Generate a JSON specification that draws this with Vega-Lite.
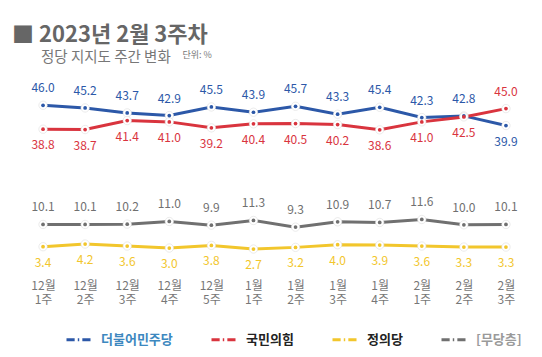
{
  "$schema": "https://vega.github.io/schema/vega-lite/v6.json",
  "width": 505,
  "height": 166,
  "autosize": "none",
  "padding": {"left": 22, "top": 92, "right": 15, "bottom": 99},
  "background": "white",
  "config": {
    "font": "Noto Sans CJK KR",
    "view": {"stroke": null}
  },
  "title": {
    "text": "■ 2023년 2월 3주차",
    "subtitle": "\u200b\u2003\u2003정당 지지도 주간 변화",
    "anchor": "start",
    "frame": "group",
    "dx": -10,
    "offset": -15.5,
    "fontSize": 22,
    "fontWeight": "bold",
    "color": "#666666",
    "subtitleFontSize": 14.5,
    "subtitleColor": "#777777",
    "subtitlePadding": 4
  },
  "data": {
    "values": [
      {"week": "12월 1주", "party": "더불어민주당", "value": 46.0},
      {"week": "12월 2주", "party": "더불어민주당", "value": 45.2},
      {"week": "12월 3주", "party": "더불어민주당", "value": 43.7},
      {"week": "12월 4주", "party": "더불어민주당", "value": 42.9},
      {"week": "12월 5주", "party": "더불어민주당", "value": 45.5},
      {"week": "1월 1주", "party": "더불어민주당", "value": 43.9},
      {"week": "1월 2주", "party": "더불어민주당", "value": 45.7},
      {"week": "1월 3주", "party": "더불어민주당", "value": 43.3},
      {"week": "1월 4주", "party": "더불어민주당", "value": 45.4},
      {"week": "2월 1주", "party": "더불어민주당", "value": 42.3},
      {"week": "2월 2주", "party": "더불어민주당", "value": 42.8},
      {"week": "2월 3주", "party": "더불어민주당", "value": 39.9},
      {"week": "12월 1주", "party": "국민의힘", "value": 38.8},
      {"week": "12월 2주", "party": "국민의힘", "value": 38.7},
      {"week": "12월 3주", "party": "국민의힘", "value": 41.4},
      {"week": "12월 4주", "party": "국민의힘", "value": 41.0},
      {"week": "12월 5주", "party": "국민의힘", "value": 39.2},
      {"week": "1월 1주", "party": "국민의힘", "value": 40.4},
      {"week": "1월 2주", "party": "국민의힘", "value": 40.5},
      {"week": "1월 3주", "party": "국민의힘", "value": 40.2},
      {"week": "1월 4주", "party": "국민의힘", "value": 38.6},
      {"week": "2월 1주", "party": "국민의힘", "value": 41.0},
      {"week": "2월 2주", "party": "국민의힘", "value": 42.5},
      {"week": "2월 3주", "party": "국민의힘", "value": 45.0},
      {"week": "12월 1주", "party": "정의당", "value": 3.4},
      {"week": "12월 2주", "party": "정의당", "value": 4.2},
      {"week": "12월 3주", "party": "정의당", "value": 3.6},
      {"week": "12월 4주", "party": "정의당", "value": 3.0},
      {"week": "12월 5주", "party": "정의당", "value": 3.8},
      {"week": "1월 1주", "party": "정의당", "value": 2.7},
      {"week": "1월 2주", "party": "정의당", "value": 3.2},
      {"week": "1월 3주", "party": "정의당", "value": 4.0},
      {"week": "1월 4주", "party": "정의당", "value": 3.9},
      {"week": "2월 1주", "party": "정의당", "value": 3.6},
      {"week": "2월 2주", "party": "정의당", "value": 3.3},
      {"week": "2월 3주", "party": "정의당", "value": 3.3},
      {"week": "12월 1주", "party": "[무당층]", "value": 10.1},
      {"week": "12월 2주", "party": "[무당층]", "value": 10.1},
      {"week": "12월 3주", "party": "[무당층]", "value": 10.2},
      {"week": "12월 4주", "party": "[무당층]", "value": 11.0},
      {"week": "12월 5주", "party": "[무당층]", "value": 9.9},
      {"week": "1월 1주", "party": "[무당층]", "value": 11.3},
      {"week": "1월 2주", "party": "[무당층]", "value": 9.3},
      {"week": "1월 3주", "party": "[무당층]", "value": 10.9},
      {"week": "1월 4주", "party": "[무당층]", "value": 10.7},
      {"week": "2월 1주", "party": "[무당층]", "value": 11.6},
      {"week": "2월 2주", "party": "[무당층]", "value": 10.0},
      {"week": "2월 3주", "party": "[무당층]", "value": 10.1}
    ]
  },
  "encoding": {
    "x": {
      "field": "week",
      "type": "nominal",
      "sort": null,
      "scale": {"type": "point", "padding": 0.5},
      "axis": {
        "title": null,
        "domain": false,
        "ticks": false,
        "grid": false,
        "labelAngle": 0,
        "labelExpr": "split(datum.label, ' ')",
        "labelColor": "#777777",
        "labelFontSize": 12,
        "labelLineHeight": 14,
        "labelPadding": 22
      }
    },
    "y": {
      "field": "value",
      "type": "quantitative",
      "scale": {"domain": [0, 50], "nice": false, "zero": true},
      "axis": {
        "title": "단위: %",
        "labels": false,
        "ticks": false,
        "domain": false,
        "grid": false,
        "titleAngle": 0,
        "titleX": 160,
        "titleY": -35,
        "titleAlign": "left",
        "titleBaseline": "alphabetic",
        "titleFontSize": 9,
        "titleFontWeight": "normal",
        "titleColor": "#777777"
      }
    }
  },
  "layer": [
    {
      "mark": {"type": "line", "strokeWidth": 3},
      "encoding": {
        "color": {
          "field": "party",
          "type": "nominal",
          "scale": {
            "domain": ["더불어민주당", "국민의힘", "정의당", "[무당층]"],
            "range": ["#2c58a8", "#d9343e", "#f2c62c", "#707070"]
          },
          "legend": {
            "orient": "none",
            "legendX": 43,
            "legendY": 234,
            "direction": "horizontal",
            "title": null,
            "symbolType": "M-1,0H-0.32M-0.06,0H0.06M0.32,0H1",
            "symbolSize": 576,
            "symbolStrokeWidth": 3,
            "labelFontSize": 13,
            "labelFontWeight": "bold",
            "labelOffset": 9,
            "columnPadding": 32,
            "encode": {
              "labels": {
                "update": {
                  "fill": {"signal": "datum.label === '[무당층]' ? '#9a9a9a' : datum.label === '더불어민주당' ? '#3d88bf' : '#222222'"}
                }
              }
            }
          }
        }
      }
    },
    {
      "mark": {"type": "point", "filled": true, "size": 70, "color": "white", "opacity": 1, "stroke": "#dddddd", "strokeWidth": 0.6}
    },
    {
      "mark": {"type": "point", "filled": true, "size": 14, "opacity": 1},
      "encoding": {
        "color": {"field": "party", "type": "nominal", "legend": null}
      }
    },
    {
      "transform": [
        {"joinaggregate": [{"op": "max", "field": "value", "as": "mx"}], "groupby": ["week"]},
        {"filter": "datum.party === '[무당층]' || datum.value === datum.mx"}
      ],
      "mark": {"type": "text", "dy": -17, "fontSize": 12},
      "encoding": {
        "text": {"field": "value", "type": "quantitative", "format": ".1f"},
        "color": {"field": "party", "type": "nominal", "legend": null}
      }
    },
    {
      "transform": [
        {"joinaggregate": [{"op": "max", "field": "value", "as": "mx"}], "groupby": ["week"]},
        {"filter": "datum.party === '정의당' || (datum.party !== '[무당층]' && datum.value < datum.mx)"}
      ],
      "mark": {"type": "text", "dy": 16, "fontSize": 12},
      "encoding": {
        "text": {"field": "value", "type": "quantitative", "format": ".1f"},
        "color": {"field": "party", "type": "nominal", "legend": null}
      }
    }
  ]
}
